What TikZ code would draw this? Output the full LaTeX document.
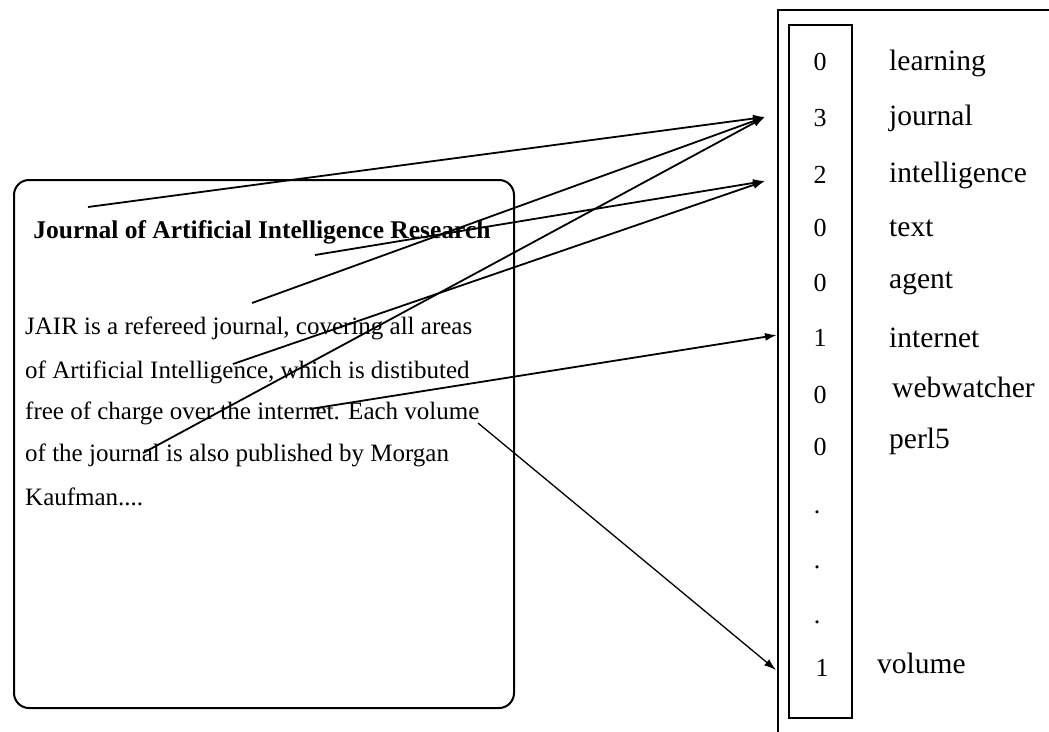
\documentclass[tikz,border=0pt]{standalone}
\usepackage{fontspec}
\setmainfont{Liberation Serif}
\usetikzlibrary{arrows.meta}
\tikzset{
  body/.style={anchor=west, inner sep=0pt, font=\fontsize{25}{30}\selectfont},
  word/.style={anchor=west, inner sep=0pt, font=\fontsize{29.5}{34}\selectfont},
  num/.style={inner sep=0pt, font=\fontsize{26}{30}\selectfont},
  link/.style={line width=1.8pt, -{Latex[length=12pt,width=8pt]}},
  thinlink/.style={line width=1.3pt, -{Latex[length=12pt,width=8pt]}},
  frame/.style={line width=2pt}
}
\begin{document}
\begin{tikzpicture}[x=1pt,y=-1pt]
\useasboundingbox (0,0) rectangle (1049,731);
% document box
\draw[frame, rounded corners=15pt] (14,180) rectangle (514,708);
\node[inner sep=0pt, font=\bfseries\fontsize{25.5}{30}\selectfont] (title) at (262,232) {Journal of Artificial Intelligence Research};
\node[body] (l1) at (25,328) {JAIR is a refereed journal, covering all areas};
\node[body] (l2) at (25,372) {of Artificial Intelligence, which is distibuted};
\node[body] (l3) at (25,413) {free of charge over the internet. Each volume};
\node[body] (l4) at (25,455) {of the journal is also published by Morgan};
\node[body] (l5) at (25,497) {Kaufman....};
% vector box
\draw[frame] (1060,10) -- (778,10) -- (778,745);
\draw[frame] (789,25) rectangle (852,718);
\node[num] (n1) at (820,62) {0};
\node[num] (n2) at (820,118) {3};
\node[num] (n3) at (820,175) {2};
\node[num] (n4) at (820,228) {0};
\node[num] (n5) at (820,283) {0};
\node[num] (n6) at (820,338) {1};
\node[num] (n7) at (820,395) {0};
\node[num] (n8) at (820,447) {0};
\node[num] (d1) at (817,512) {.};
\node[num] (d2) at (817,567) {.};
\node[num] (d3) at (817,622) {.};
\node[num] (n9) at (822,668) {1};
\node[word] (w1) at (889,63) {learning};
\node[word] (w2) at (889,118) {journal};
\node[word] (w3) at (889,175) {intelligence};
\node[word] (w4) at (889,228) {text};
\node[word] (w5) at (889,283) {agent};
\node[word] (w6) at (889,338) {internet};
\node[word] (w7) at (892,387) {webwatcher};
\node[word] (w8) at (889,441) {perl5};
\node[word] (w9) at (877,663) {volume};
% link ends
\coordinate (tJ) at (765,117);
\coordinate (tI) at (765,181);
\coordinate (tN) at (777,335);
\coordinate (tV) at (776,670);
\coordinate (sA) at (88,207);
\coordinate (sB) at (315,255);
\coordinate (sC) at (252,303);
\coordinate (sD) at (143,453);
\coordinate (sE) at (233,364);
\coordinate (sF) at (310,409);
\coordinate (sG) at (478,423);
\draw[link] (sA) -- (tJ);
\draw[link] (sC) -- (tJ);
\draw[link] (sD) -- (tJ);
\draw[link] (sB) -- (tI);
\draw[link] (sE) -- (tI);
\draw[link] (sF) -- (tN);
\draw[thinlink] (sG) -- (tV);
\end{tikzpicture}
\end{document}
